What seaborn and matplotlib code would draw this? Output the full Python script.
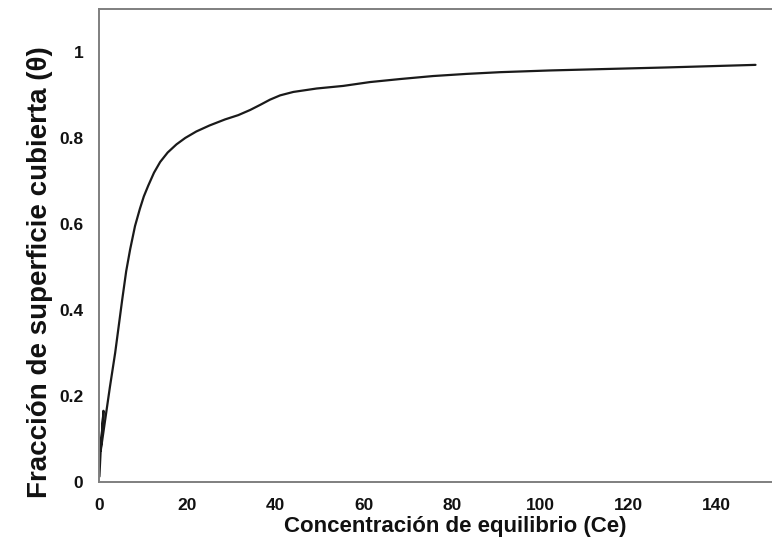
import matplotlib
matplotlib.use("Agg")
import matplotlib.pyplot as plt
import seaborn as sns
import pandas as pd

# Equilibrium concentration (Ce) and fraction of covered surface (theta), in recorded order
ce = [0.02, 0.3, 0.95, 0.32, 2.4, 3.6, 5.2, 6.1, 7.0, 8.1, 9.2, 10.1, 11.1,
      12.4, 13.8, 15.5, 17.5, 19.5, 22.0, 25.0, 28.5, 31.5, 34.2, 36.5,
      38.7, 41.0, 44.0, 49.3, 55.3, 61.4, 68.2, 75.7, 83.3, 90.9,
      102.2, 113.5, 128.7, 148.8]
theta = [0.012, 0.07, 0.165, 0.072, 0.22, 0.30, 0.424, 0.49, 0.541, 0.595,
         0.635, 0.664, 0.689, 0.719, 0.744, 0.766, 0.785, 0.800, 0.815,
         0.829, 0.843, 0.853, 0.865, 0.877, 0.889, 0.899, 0.907, 0.915,
         0.921, 0.930, 0.937, 0.944, 0.949, 0.953, 0.957, 0.960, 0.964, 0.970]

x_ticks = [0, 20, 40, 60, 80, 100, 120, 140]
y_ticks = [0, 0.2, 0.4, 0.6, 0.8, 1.0]
y_tick_labels = ["0", "0.2", "0.4", "0.6", "0.8", "1"]

df = pd.DataFrame({"Ce": ce, "theta": theta})

sns.set_theme(style="white")
plt.rcParams["font.family"] = ["Liberation Sans", "DejaVu Sans"]

W, H = 772, 547
fig = plt.figure(figsize=(W / 100, H / 100), dpi=100)
left_px, bottom_px, top_px = 99.3, 481.7, 9.0
px_per_unit = 4.41
xmax = 160
ax_w = xmax * px_per_unit
ax_h = bottom_px - top_px
ax = fig.add_axes([left_px / W, 1 - bottom_px / H, ax_w / W, ax_h / H])

sns.lineplot(data=df, x="Ce", y="theta", sort=False, estimator=None,
             color="#1a1a1a", linewidth=1.6, ax=ax)

ax.set_xlim(0, xmax)
ax.set_ylim(0, 1.1)
ax.set_xticks(x_ticks)
ax.set_xticklabels([str(t) for t in x_ticks])
ax.set_yticks(y_ticks)
ax.set_yticklabels(y_tick_labels)
ax.tick_params(axis="both", length=0, labelsize=12.5, pad=11.5, colors="#111111")
for lab in ax.get_xticklabels() + ax.get_yticklabels():
    lab.set_fontweight("bold")

for side in ["left", "bottom", "top", "right"]:
    ax.spines[side].set_visible(True)
    ax.spines[side].set_color("#7f7f7f")
    ax.spines[side].set_linewidth(1.4)

ax.set_xlabel("Concentración de equilibrio (Ce)", fontsize=16, fontweight="bold",
              color="#111111")
ax.set_ylabel("Fracción de superficie cubierta (θ)", fontsize=20, fontweight="bold",
              color="#111111")
ax.xaxis.set_label_coords((455 - left_px) / ax_w, -(516 - bottom_px) / ax_h)
ax.yaxis.set_label_coords(-(left_px - 53) / ax_w, (bottom_px - 272) / ax_h)
ax.grid(False)

fig.savefig("out.png", dpi=100)
